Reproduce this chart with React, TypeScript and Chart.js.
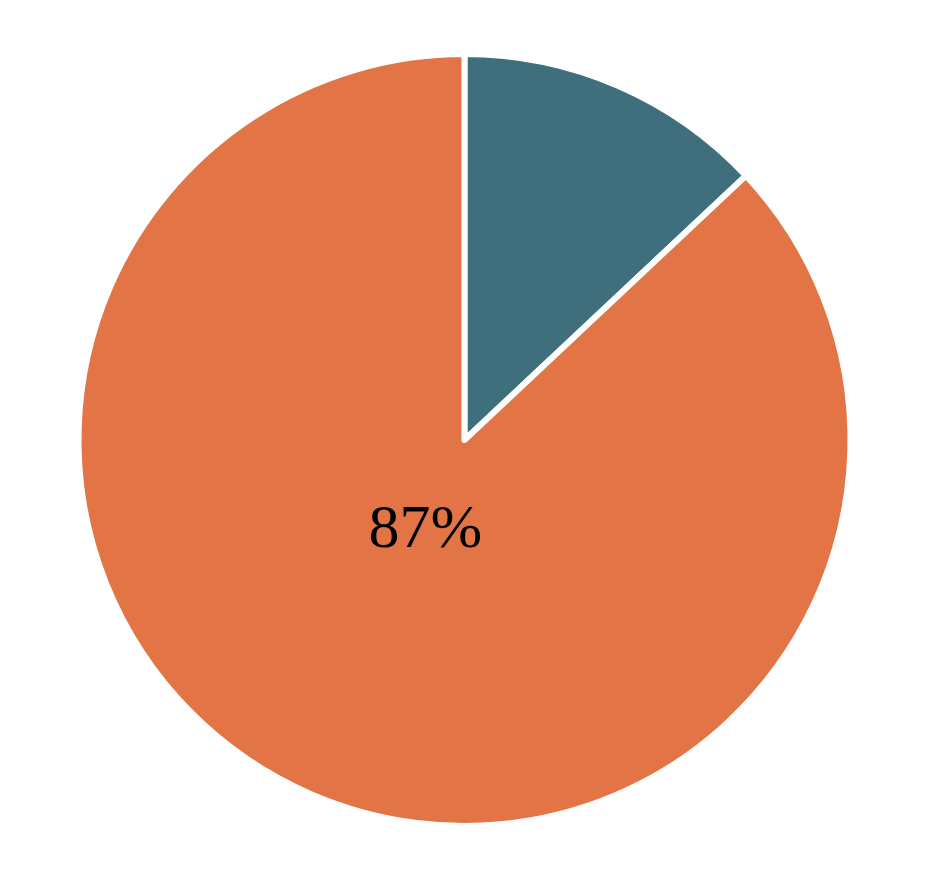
import { useEffect, useRef } from 'react'
import { Chart, registerables } from 'chart.js'

Chart.register(...registerables)

const labels = ['Other', 'Main']
const shares = [13, 87]
const colors = ['#3F6E7C', '#E37445']
const shownLabels = ['', '87%']

const labelFont = '62px "Times New Roman", "Liberation Serif", Tinos, serif'

// draws the percentage inside each slice, a quarter of the way out
const sliceLabels = {
  id: 'sliceLabels',
  afterDatasetsDraw(chart: Chart) {
    const ctx = chart.ctx
    const meta = chart.getDatasetMeta(0)
    meta.data.forEach((arc: any, i: number) => {
      const text = shownLabels[i]
      if (!text) return
      const { x, y, startAngle, endAngle, outerRadius } = arc.getProps(
        ['x', 'y', 'startAngle', 'endAngle', 'outerRadius'],
        true
      )
      const mid = (startAngle + endAngle) / 2
      const r = outerRadius * 0.255
      ctx.save()
      ctx.fillStyle = '#000'
      ctx.font = labelFont
      ctx.textAlign = 'center'
      ctx.textBaseline = 'middle'
      ctx.fillText(text, x + Math.cos(mid) * r, y + Math.sin(mid) * r)
      ctx.restore()
    })
  },
}

export default function App() {
  const chartRef = useRef<HTMLCanvasElement | null>(null)
  const chartInstance = useRef<Chart | null>(null)

  useEffect(() => {
    let cancelled = false

    const build = () => {
      if (cancelled || !chartRef.current) return
      if (chartInstance.current) chartInstance.current.destroy()

      chartInstance.current = new Chart(chartRef.current, {
        type: 'pie',
        data: {
          labels,
          datasets: [
            {
              data: shares,
              backgroundColor: colors,
              borderColor: '#ffffff',
              borderWidth: 6,
              borderJoinStyle: 'round',
            },
          ],
        },
        options: {
          animation: false,
          responsive: true,
          maintainAspectRatio: false,
          layout: { padding: { top: 51, bottom: 45, left: 0, right: 0 } },
          plugins: {
            legend: { display: false },
            tooltip: { enabled: false },
          },
        },
        plugins: [sliceLabels],
      })
    }

    // wait for the serif face so the canvas text does not fall back
    Promise.all([
      document.fonts.load('62px "Times New Roman"', '87%'),
      document.fonts.load('62px "Liberation Serif"', '87%'),
    ]).then(build, build)

    return () => {
      cancelled = true
      if (chartInstance.current) {
        chartInstance.current.destroy()
        chartInstance.current = null
      }
    }
  }, [])

  return (
    <div style={{ position: 'fixed', left: 0, top: 0, width: 929, height: 874, background: '#fff' }}>
      <canvas ref={chartRef}></canvas>
    </div>
  )
}
